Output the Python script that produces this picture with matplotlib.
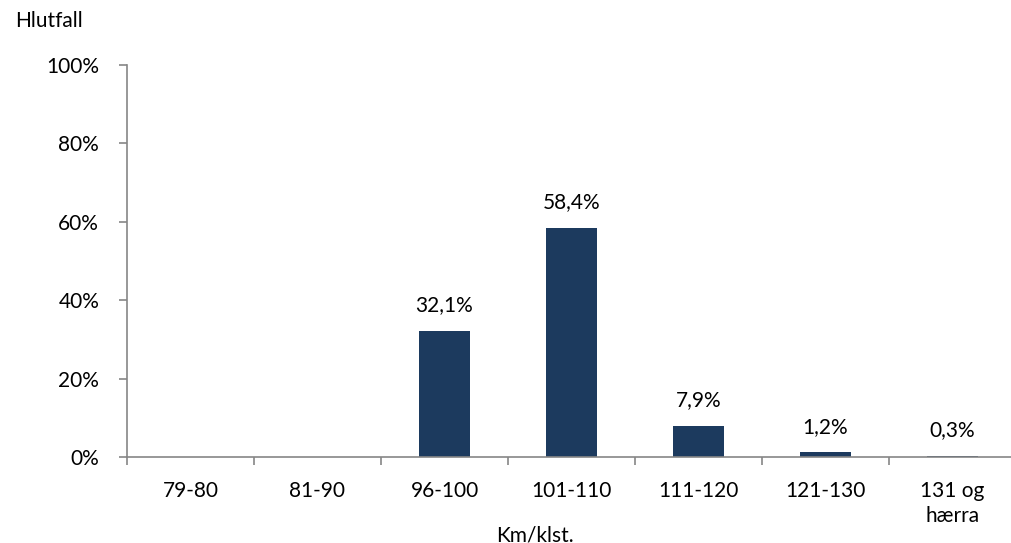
import matplotlib.pyplot as plt
import numpy as np
from matplotlib.ticker import FixedLocator, NullFormatter

categories = ["79-80", "81-90", "96-100", "101-110", "111-120", "121-130", "131 og\nhærra"]
values = [0.0, 0.0, 32.1, 58.4, 7.9, 1.2, 0.3]
value_labels = ["", "", "32,1%", "58,4%", "7,9%", "1,2%", "0,3%"]
y_ticks = [0, 20, 40, 60, 80, 100]

bar_color = "#1c3a5e"
axis_color = "#868686"

plt.rcParams["font.family"] = ["Lato", "DejaVu Sans"]

fig = plt.figure(figsize=(10.11, 5.43), dpi=100)
ax = fig.add_axes([127 / 1011, 1 - 457 / 543, (1016 - 127) / 1011, (457 - 65) / 543])

x = np.arange(len(categories))
ax.bar(x, values, width=0.4, color=bar_color, zorder=2)

for xi, v, lab in zip(x, values, value_labels):
    if lab:
        ax.text(xi, v + 4, lab, ha="center", va="bottom", fontsize=15)

ax.set_xlim(-0.5, len(categories) - 0.5)
ax.set_ylim(0, 100)

ax.set_yticks(y_ticks)
ax.set_yticklabels([f"{t}%" for t in y_ticks], fontsize=15)

ax.set_xticks(x)
ax.set_xticklabels(categories, fontsize=15, linespacing=1.35, va="top")
ax.tick_params(axis="x", which="major", length=0, pad=17)
ax.xaxis.set_minor_locator(FixedLocator(np.arange(-0.5, len(categories) - 0.5, 1)))
ax.xaxis.set_minor_formatter(NullFormatter())
ax.tick_params(axis="x", which="minor", length=6, color=axis_color, width=1.2)
ax.tick_params(axis="y", length=6, color=axis_color, width=1.2, pad=14)

for side in ["top", "right"]:
    ax.spines[side].set_visible(False)
for side in ["left", "bottom"]:
    ax.spines[side].set_color(axis_color)
    ax.spines[side].set_linewidth(1.2)

fig.text(15 / 1011, 1 - 21 / 543, "Hlutfall", fontsize=15, va="center", ha="left")
fig.text(535 / 1011, 1 - 535 / 543, "Km/klst.", fontsize=15, va="center", ha="center")

fig.savefig("out.png", dpi=100)
